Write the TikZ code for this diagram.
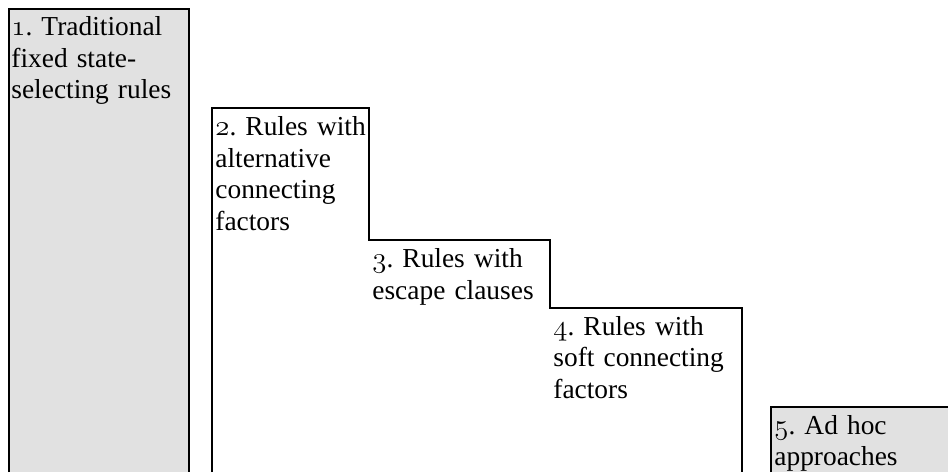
\documentclass[tikz,border=0pt]{standalone}
\usepackage{fontspec}
\setmainfont{Liberation Serif}
\usetikzlibrary{positioning}
\definecolor{boxgray}{RGB}{225,225,225}
\newcommand{\stepnum}[1]{{\usefont{OML}{cmm}{m}{it}#1}}
\tikzset{
  stair/.style={line width=1pt, line join=miter},
  steptext/.style={anchor=base west, inner sep=0pt, text width=100pt, align=left,
    font=\fontsize{13.7}{15.75}\selectfont\frenchspacing},
}
\begin{document}
\begin{tikzpicture}[x=1pt,y=1pt]
	\useasboundingbox (0,0) rectangle (474,236);

	%the grey columns at both ends
	\fill[boxgray] (4.5,0) rectangle (94.5,231.5);
	\fill[boxgray] (385.5,0) rectangle (474,32.5);
	\draw[stair] (4.5,0) |- (94.5,231.5) -- (94.5,0);
	\draw[stair] (385.5,0) |- (475,32.5);

	%the staircase
	\draw[stair] (106,0) |- (184.5,182) |- (275,116) |- (371,82) -- (371,0);

	%the texts on each step
	\node[steptext] (trad) at (5.5,218) {\stepnum{1}. Traditional\\ fixed state-\\ selecting rules};
	\node[steptext] (alt) at (107.5,168) {\stepnum{2}. Rules with\\ alternative\\ connecting\\ factors};
	\node[steptext] (escape) at (186,102.2) {\stepnum{3}. Rules with\\ escape clauses};
	\node[steptext] (soft) at (276.5,68.5) {\stepnum{4}. Rules with\\ soft connecting\\ factors};
	\node[steptext] (adhoc) at (387,19) {\stepnum{5}. Ad hoc\\ approaches};

\end{tikzpicture}
\end{document}
